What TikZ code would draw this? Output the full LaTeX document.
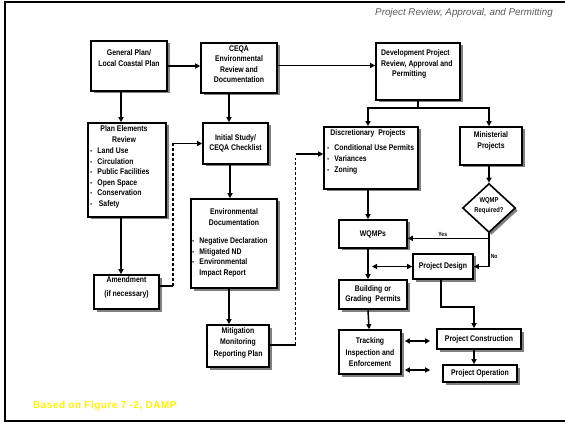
\documentclass[tikz,border=0pt]{standalone}
\usepackage{fontspec}
\setmainfont{Liberation Sans}
\newfontfamily\narrowfont{Liberation Sans}[FakeStretch=0.84]
\usetikzlibrary{arrows.meta,shadows,shapes.geometric}

\newcommand{\bul}{-\hspace{5pt}}

\begin{document}
\begin{tikzpicture}[x=1pt,y=-1pt,
    boxtxt/.style={font=\narrowfont\bfseries\fontsize{8.2}{10.5}\selectfont},
    box/.style={draw, line width=1.6pt, fill=white, inner sep=0pt, align=center, boxtxt,
      drop shadow={shadow xshift=2.5pt, shadow yshift=-2.5pt, fill=black!50, opacity=1}},
    txt/.style={inner sep=0pt, boxtxt},
    lbl/.style={inner sep=1pt, font=\narrowfont\bfseries\fontsize{6}{6.5}\selectfont},
    arr/.style={line width=1.5pt, -{Triangle[length=5pt,width=5pt]}},
    dbl/.style={line width=1.5pt, {Triangle[length=5pt,width=5pt]}-{Triangle[length=5pt,width=5pt]}}]

  \useasboundingbox (0,0) rectangle (565,422);
  \fill[white] (0,0) rectangle (565,422);
  % frame and captions
  \draw[line width=2pt] (566,2) -- (5,2) -- (5,421) -- (566,421);
  \node[anchor=east, inner sep=0pt, text=black!65, font=\itshape\fontsize{9.8}{11}\selectfont] (ttl) at (553,13) {Project Review, Approval, and Permitting};
  \node[anchor=west, inner sep=0pt, text=yellow, font=\bfseries\fontsize{10}{11}\selectfont\addfontfeatures{LetterSpace=5}] (src) at (33,406) {Based on Figure 7 -2, DAMP};

  % planning side
  \node[box, minimum width=76pt, minimum height=50pt] (gplan) at (129,66) {};
  \node[txt, align=center] (gplan-t) at (129,58) {General Plan/\\Local Coastal Plan};
  \node[box, minimum width=76pt, minimum height=50pt] (ceqa) at (239,68) {};
  \node[txt, align=center] (ceqa-t) at (239,64) {CEQA\\Environmental\\Review and\\Documentation};

  \node[box, minimum width=78pt, minimum height=94pt] (planel) at (127,170) {};
  \node[txt, align=center] (planel-t) at (124,134) {Plan Elements\\Review};
  \node[txt, align=left, anchor=north west] (planel-l) at (90,147.5) {\bul Land Use\\\bul Circulation\\\bul Public Facilities\\\bul Open Space\\\bul Conservation\\\bul\,Safety};

  \node[box, minimum width=65pt, minimum height=41pt] (initst) at (235.5,143.5) {Initial Study/\\CEQA Checklist};
  \node[box, minimum width=65pt, minimum height=34pt] (amend) at (126.5,292) {};
  \node[txt, align=center] (amend-t) at (126.5,287.5) {Amendment\\[3pt](if necessary)};

  \node[box, minimum width=86pt, minimum height=89pt] (envdoc) at (234,243.5) {};
  \node[txt, align=center] (envdoc-t) at (234,217) {Environmental\\Documentation};
  \node[txt, align=left, anchor=north west] (envdoc-l) at (192,237.5) {\bul Negative Declaration\\\bul Mitigated ND\\\bul Environmental\\\phantom{\bul}Impact Report};

  \node[box, minimum width=62pt, minimum height=42pt] (mitig) at (238,346) {};
  \node[txt, align=center] (mitig-t) at (238,343) {Mitigation\\Monitoring\\[2pt]Reporting Plan};

  % project side
  \node[box, minimum width=84pt, minimum height=57pt] (dev) at (418,71.5) {};
  \node[txt, align=left, anchor=north west] (dev-t) at (381,49.5) {Development Project\\Review, Approval and\\\hspace*{11pt}Permitting};

  \node[box, minimum width=94pt, minimum height=62pt] (disc) at (371,158) {};
  \node[txt] (disc-t) at (368,133) {Discretionary\ \ Projects};
  \node[txt, align=left, anchor=north west] (disc-l) at (327,144.5) {\bul Conditional Use Permits\\\bul Variances\\[1pt]\bul Zoning};

  \node[box, minimum width=62pt, minimum height=38pt] (minis) at (491,146) {};
  \node[txt, align=center] (minis-t) at (491,141) {Ministerial\\Projects};

  \node[box, diamond, minimum width=53pt, minimum height=49pt] (wqmpq) at (489,208) {};
  \node[txt, align=center, font=\narrowfont\bfseries\fontsize{7}{9.5}\selectfont] (wqmpq-t) at (489,206) {WQMP\\Required?};

  \node[box, minimum width=68pt, minimum height=28pt] (wqmps) at (373,234) {WQMPs};
  \node[box, minimum width=60pt, minimum height=25pt] (pdesign) at (443,266.5) {Project Design};
  \node[box, minimum width=68pt, minimum height=29pt] (bldg) at (373,294.5) {Building or\\Grading\ \ Permits};
  \node[box, minimum width=62pt, minimum height=44pt] (track) at (370,352) {Tracking\\[2pt]Inspection and\\Enforcement};
  \node[box, minimum width=84pt, minimum height=20pt] (constr) at (479,339) {Project Construction};
  \node[box, minimum width=74pt, minimum height=17pt] (oper) at (480,373.5) {Project Operation};

  % connectors, planning side
  \draw[arr] (gplan.east) -- (gplan.east -| ceqa.west);
  \draw[arr] ([yshift=2.5pt]ceqa.east) -- ([yshift=2.5pt]ceqa.east -| dev.west);
  \draw[arr] ([xshift=-8pt]gplan.south) -- ([xshift=-8pt]gplan.south |- planel.north);
  \draw[arr] ([xshift=-10pt]ceqa.south) -- ([xshift=-10pt]ceqa.south |- initst.north);
  \draw[arr] ([xshift=-6pt]planel.south) -- ([xshift=-6pt]planel.south |- amend.north);
  \draw[arr] ([xshift=-5.5pt]initst.south) -- ([xshift=-5.5pt]initst.south |- envdoc.north);
  \draw[arr] ([xshift=-5pt]envdoc.south) -- ([xshift=-5pt]envdoc.south |- mitig.north);

  % feedback lines
  \draw[line width=1.5pt] ([yshift=6pt]amend.east) -- ++(13,0) coordinate (amd);
  \draw[line width=1.8pt, dash pattern=on 3pt off 2pt] (amd) -- (amd |- initst.west);
  \draw[arr] (amd |- initst.west) -- (initst.west);
  \draw[line width=1.5pt] ([yshift=1pt]mitig.east) -- ++(26,0) coordinate (mtg);
  \draw[line width=0.7pt, dash pattern=on 3pt off 2pt] (mtg) -- (mtg |- disc.west);
  \draw[arr] ([yshift=4pt]mtg |- disc.west) -- ([yshift=4pt]disc.west);

  % connectors, project side
  \coordinate (split) at ([yshift=-7pt]dev.south);
  \draw[arr] (dev.south) -- (split) -| ([xshift=-3pt]disc.north);
  \draw[arr] (split) -| ([xshift=-2pt]minis.north);
  \draw[arr] ([xshift=-3pt]disc.south) -- ([xshift=-3pt]disc.south |- wqmps.north);
  \draw[arr] ([xshift=-2pt]minis.south) -- (wqmpq.north);
  \draw[line width=1.5pt] (wqmpq.south) -- ++(0,5) coordinate (yes);
  \draw[arr] (yes) -- (yes -| wqmps.east) node[lbl, pos=0.57, above] (yes-l) {Yes};
  \draw[arr] (yes) |- node[lbl, pos=0.33, right] (no-l) {No} (pdesign.east);
  \draw[arr] ([xshift=-5pt]wqmps.south) -- ([xshift=-5pt]wqmps.south |- bldg.north);
  \draw[dbl] ([xshift=-1pt]wqmps.south |- pdesign.west) -- (pdesign.west);
  \draw[arr] ([xshift=-2pt]pdesign.south) -- ++(0,27) -| ([xshift=-5pt]constr.north);
  \draw[arr] ([xshift=-5pt]bldg.south) -- ([xshift=-1pt]track.north);
  \draw[arr] ([xshift=-5pt]constr.south) -- ([xshift=-5pt]constr.south |- oper.north);
  \draw[dbl, shorten <=3pt, shorten >=6pt] ([yshift=-2pt]track.east |- constr.west) -- ([yshift=-2pt]constr.west);
  \draw[dbl, shorten <=3pt, shorten >=12pt] ([yshift=3.5pt]track.east |- oper.west) -- ([yshift=3.5pt]oper.west);
\end{tikzpicture}
\end{document}
